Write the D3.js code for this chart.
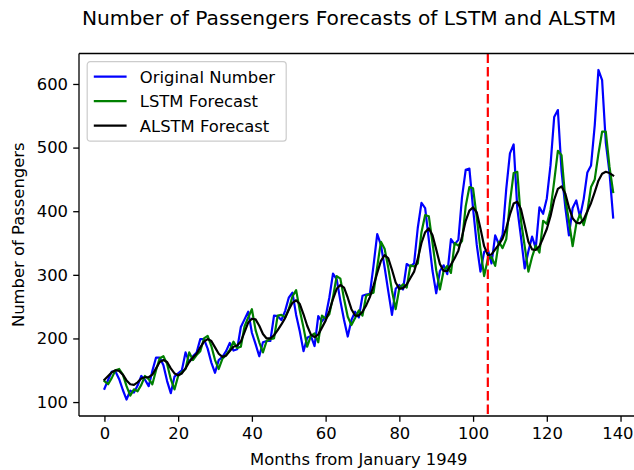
<!DOCTYPE html>
<html>
<head>
<meta charset="utf-8">
<script src="https://cdn.jsdelivr.net/npm/d3@7"></script>
<style>
  html, body { margin: 0; padding: 0; background: #fff; }
  svg { display: block; font-family: "DejaVu Sans", sans-serif; }
</style>
</head>
<body>
<svg id="chart" width="634" height="470"></svg>
<script>
// Monthly airline passengers (thousands); month 0 is the first month the models forecast
const original = [121,135,148,148,136,119,104,118,115,126,141,135,125,149,170,170,158,133,114,140,
  145,150,178,163,172,178,199,199,184,162,146,166,171,180,193,181,183,218,230,242,
  209,191,172,194,196,196,236,235,229,243,264,272,237,211,180,201,204,188,235,227,
  234,264,302,293,259,229,203,229,242,233,267,269,270,315,364,347,312,274,237,278,
  284,277,317,313,318,374,413,405,355,306,271,306,315,301,356,348,355,422,465,467,
  404,347,305,336,340,318,362,348,363,435,491,505,404,359,310,337,360,342,406,396,
  420,472,548,559,463,407,362,405,417,391,419,461,472,535,622,606,508,461,390];

const lstm = [133,128,138,150,152,143,125,110,120,117,127,141,136,128,150,169,172,160,136,120,
  141,147,152,178,166,174,180,200,204,188,166,152,168,174,182,195,185,187,219,233,
  246,213,194,178,196,199,200,236,237,233,246,266,276,244,217,187,204,208,194,236,
  231,238,265,298,294,262,234,221,232,244,236,267,270,272,313,352,341,311,275,246,
  279,285,280,315,313,318,367,394,392,350,307,277,306,314,303,350,346,353,408,438,
  436,390,340,298,325,328,314,352,342,356,414,460,462,385,345,305,328,346,335,385,
  380,402,447,495,488,420,385,345,380,395,378,400,438,450,490,525,525,470,430];

const alstm = [135,141,147,150,149,143,134,128,127,131,137,139,139,143,153,163,166,163,153,145,
  142,145,153,163,170,176,186,195,199,196,186,176,171,173,180,187,189,195,210,225,
  231,230,220,207,200,200,205,213,222,232,245,256,260,254,238,220,206,202,206,217,
  228,243,262,278,284,280,264,246,236,236,242,252,265,283,303,322,331,326,308,288,
  278,279,285,295,305,325,350,367,373,362,340,317,306,306,316,326,338,360,385,401,
  406,398,373,345,331,332,340,348,357,373,395,412,415,403,378,352,340,339,345,358,
  372,392,418,435,439,428,406,389,382,381,387,400,413,430,448,459,462,460,456];

const splitMonth = 104;
const xTicks = [0, 20, 40, 60, 80, 100, 120, 140];
const yTicks = [100, 200, 300, 400, 500, 600];

const seriesNames = ["Original Number", "LSTM Forecast", "ALSTM Forecast"];
const seriesColors = ["#0000ff", "#008000", "#000000"];

const W = 634;
const svg = d3.select("#chart");
const margin = { left: 79, right: 638.6, top: 53.5, bottom: 416 };

// autoscale with 5% padding on each side
const allVals = original.concat(lstm, alstm);
const n = original.length;
const xPad = (n - 1) * 0.05;
const yMin = d3.min(allVals), yMax = d3.max(allVals);
const yPad = (yMax - yMin) * 0.05;

const x = d3.scaleLinear().domain([-xPad, n - 1 + xPad]).range([margin.left, margin.right]);
const y = d3.scaleLinear().domain([yMin - yPad, yMax + yPad]).range([margin.bottom, margin.top]);

const fs = 16.4;

// clip for plot area
svg.append("defs").append("clipPath").attr("id", "plotClip")
  .append("rect").attr("x", margin.left).attr("y", margin.top)
  .attr("width", margin.right - margin.left).attr("height", margin.bottom - margin.top);

const line = d3.line().x((d, i) => x(i)).y(d => y(d));

const plot = svg.append("g").attr("clip-path", "url(#plotClip)");
[original, lstm, alstm].forEach((data, k) => {
  plot.append("path")
    .datum(data)
    .attr("fill", "none")
    .attr("stroke", seriesColors[k])
    .attr("stroke-width", 2.2)
    .attr("stroke-linejoin", "round")
    .attr("stroke-linecap", "square")
    .attr("d", line);
});

// train/test split marker
plot.append("line")
  .attr("x1", x(splitMonth)).attr("x2", x(splitMonth))
  .attr("y1", margin.top).attr("y2", margin.bottom)
  .attr("stroke", "#ff0000")
  .attr("stroke-width", 2.2)
  .attr("stroke-dasharray", "9.5,4");

// axes
const xAxis = d3.axisBottom(x).tickValues(xTicks).tickSize(5.8).tickPadding(5.2);
const yAxis = d3.axisLeft(y).tickValues(yTicks).tickSize(5.8).tickPadding(5.2);

const gx = svg.append("g").attr("transform", `translate(0,${margin.bottom})`).call(xAxis);
const gy = svg.append("g").attr("transform", `translate(${margin.left},0)`).call(yAxis);
[gx, gy].forEach(g => {
  g.select(".domain").remove();
  g.selectAll(".tick line").attr("stroke", "#000").attr("stroke-width", 1.3);
  g.selectAll(".tick text").attr("fill", "#000").style("font-size", fs + "px")
    .style("font-family", "DejaVu Sans");
});
// keep the last x tick label inside the page edge
gx.selectAll(".tick text").each(function () {
  const bb = this.getBBox();
  const tx = +d3.select(this.parentNode).attr("transform").match(/translate\(([-\d.]+)/)[1];
  const over = tx + bb.x + bb.width - (W - 0.5);
  if (over > 0) d3.select(this).attr("x", -over);
});

// spines
const spine = svg.append("g").attr("stroke", "#000").attr("stroke-width", 1.3).attr("fill", "none");
spine.append("line").attr("x1", margin.left).attr("x2", margin.left).attr("y1", margin.top).attr("y2", margin.bottom);
spine.append("line").attr("x1", margin.left).attr("x2", 640).attr("y1", margin.bottom).attr("y2", margin.bottom);
spine.append("line").attr("x1", margin.left).attr("x2", 640).attr("y1", margin.top).attr("y2", margin.top);

// labels
svg.append("text")
  .attr("x", 349).attr("y", 25)
  .attr("text-anchor", "middle")
  .style("font-size", "20.2px")
  .attr("fill", "#000")
  .text("Number of Passengers Forecasts of LSTM and ALSTM");

svg.append("text")
  .attr("x", (margin.left + margin.right) / 2).attr("y", 465)
  .attr("text-anchor", "middle")
  .style("font-size", fs + "px")
  .attr("fill", "#000")
  .text("Months from January 1949");

svg.append("text")
  .attr("transform", `translate(24,${(margin.top + margin.bottom) / 2}) rotate(-90)`)
  .attr("text-anchor", "middle")
  .style("font-size", fs + "px")
  .attr("fill", "#000")
  .text("Number of Passengers");

// legend
const leg = svg.append("g").attr("transform", `translate(${margin.left + 8.2},${margin.top + 8.2})`);
leg.append("rect")
  .attr("x", 0).attr("y", 0).attr("width", 199).attr("height", 79.5)
  .attr("rx", 3).attr("ry", 3)
  .attr("fill", "#fff").attr("fill-opacity", 0.8)
  .attr("stroke", "#cccccc").attr("stroke-width", 1.2);
seriesNames.forEach((name, i) => {
  const cy = 15 + i * 24.5;
  leg.append("line")
    .attr("x1", 6.6).attr("x2", 39.4).attr("y1", cy).attr("y2", cy)
    .attr("stroke", seriesColors[i]).attr("stroke-width", 2.3);
  leg.append("text")
    .attr("x", 52.6).attr("y", cy)
    .attr("dy", "0.36em")
    .style("font-size", fs + "px")
    .attr("fill", "#000")
    .text(name);
});
</script>
</body>
</html>
